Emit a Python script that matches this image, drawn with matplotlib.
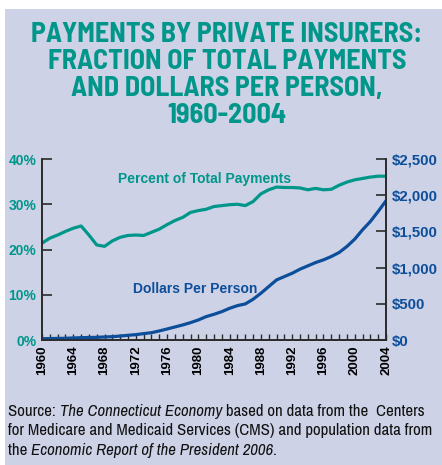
import numpy as np
import matplotlib
matplotlib.use("Agg")
import matplotlib.pyplot as plt
from matplotlib.patches import Rectangle
from matplotlib.ticker import FuncFormatter, MultipleLocator

# values
years = np.arange(1960, 2005)
pct_total = [21.4, 22.5, 23.2, 24.0, 24.7, 25.2, 23.2, 21.0, 20.7, 21.9,
             22.7, 23.1, 23.2, 23.1, 23.8, 24.5, 25.5, 26.4, 27.1, 28.2,
             28.6, 28.9, 29.5, 29.7, 29.9, 30.0, 29.7, 30.6, 32.3, 33.2,
             33.8, 33.7, 33.7, 33.6, 33.2, 33.5, 33.2, 33.3, 34.2, 34.9,
             35.4, 35.7, 36.0, 36.2, 36.2]
dollars_pp = [18, 20, 22, 24, 28, 32, 35, 37, 42, 46,
              55, 65, 74, 88, 101, 125, 152, 180, 208, 240,
              277, 323, 355, 392, 438, 475, 498, 563, 646, 738,
              830, 876, 922, 978, 1024, 1070, 1107, 1153, 1208, 1292,
              1393, 1522, 1637, 1776, 1923]
year_labels = list(range(1960, 2005, 4))

TEAL = "#00968a"
BLUE = "#0d4e9a"
PANEL = "#cdd2e7"
TITLE_FONT = ["Barlow Semi Condensed", "Liberation Sans", "DejaVu Sans"]
NARROW = ["Archivo Narrow", "Liberation Sans", "DejaVu Sans"]
BOLD = ["Liberation Sans", "DejaVu Sans"]

W, H = 442, 465
fig = plt.figure(figsize=(W / 100, H / 100), dpi=100)
fig.patch.set_facecolor("white")
fig.patches.append(Rectangle((5 / W, 0), (W - 5) / W, (H - 9) / H,
                             transform=fig.transFigure, facecolor=PANEL,
                             edgecolor="none", zorder=-10))

title = ["PAYMENTS BY PRIVATE INSURERS:", "FRACTION OF TOTAL PAYMENTS",
         "AND DOLLARS PER PERSON,", "1960-2004"]
for i, line in enumerate(title):
    fig.text(227 / W, 1 - (35 + 26.7 * i) / H, line, ha="center", va="center",
             color=TEAL, fontsize=20.2, fontweight="bold", family=TITLE_FONT)

ax = fig.add_axes([42 / W, 1 - 340 / H, (386 - 42) / W, (340 - 159) / H])
ax.set_facecolor("none")
ax2 = ax.twinx()

ax.plot(years, pct_total, color=TEAL, lw=2.3, solid_capstyle="round")
ax2.plot(years, dollars_pp, color=BLUE, lw=2.3, solid_capstyle="round")

ax.set_xlim(1960, 2004)
ax.set_ylim(0, 40)
ax2.set_ylim(0, 2500)

for a in (ax, ax2):
    for s in a.spines.values():
        s.set_color("#2a2a2a")
        s.set_linewidth(1.2)
    a.spines["top"].set_visible(False)

ax.set_xticks(year_labels)
ax.set_xticklabels([str(y) for y in year_labels], rotation=90,
                   fontweight="bold", fontsize=9.5, family=BOLD)
ax.xaxis.set_minor_locator(MultipleLocator(1))
ax.tick_params(axis="x", which="both", direction="in", length=4, width=1,
               color="#2a2a2a", pad=4)

ax.yaxis.set_major_locator(MultipleLocator(10))
ax.yaxis.set_major_formatter(FuncFormatter(lambda v, p: f"{v:.0f}%"))
ax.tick_params(axis="y", direction="in", length=7, width=1.2,
               color="#2a2a2a", labelcolor=TEAL, labelsize=10, pad=4)
ax2.yaxis.set_major_locator(MultipleLocator(500))
ax2.yaxis.set_major_formatter(FuncFormatter(lambda v, p: f"${v:,.0f}"))
ax2.tick_params(axis="y", direction="in", length=7, width=1.2,
                color="#2a2a2a", labelcolor=BLUE, labelsize=10.8, pad=4)
for lab in ax.get_yticklabels() + ax2.get_yticklabels():
    lab.set_fontweight("bold")
    lab.set_family(BOLD)

ax.text(1969.7, 35.6, "Percent of Total Payments", color=TEAL,
        fontsize=10, fontweight="bold", family=BOLD, va="center")
ax.text(1971.7, 11.3, "Dollars Per Person", color=BLUE,
        fontsize=10, fontweight="bold", family=BOLD, va="center")

# source note with italic titles, laid out piece by piece
source = [
    [("Source: ", "normal"), ("The Connecticut Economy", "italic"),
     (" based on data from the  Centers", "normal")],
    [("for Medicare and Medicaid Services (CMS) and population data from", "normal")],
    [("the ", "normal"), ("Economic Report of the President 2006", "italic"),
     (".", "normal")],
]
renderer = fig.canvas.get_renderer()
for i, parts in enumerate(source):
    x = 8
    y = 1 - (411 + 19.5 * i) / H
    for txt, style in parts:
        t = fig.text(x / W, y, txt, fontsize=12.1, style=style, family=NARROW,
                     va="center", ha="left", color="#111111")
        x += t.get_window_extent(renderer).width

fig.savefig("out.png", dpi=100)
